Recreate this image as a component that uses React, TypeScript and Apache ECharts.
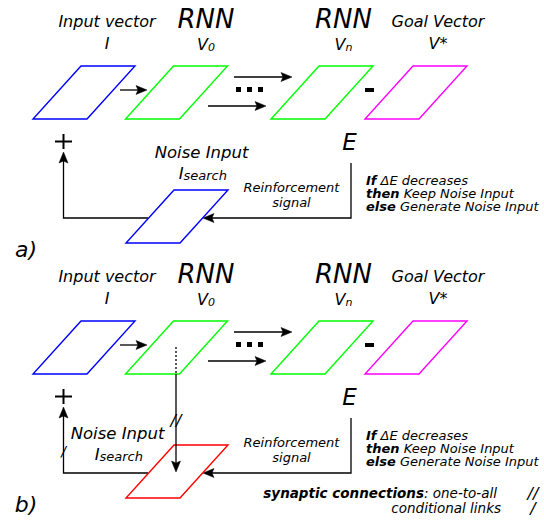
import React, { useEffect, useRef } from "react";
import * as echarts from "echarts";

const FONT = "DejaVu Sans";
const panelLabels = ["a)", "b)"];
const nodeTitles = ["Input vector", "RNN", "RNN", "Goal Vector"];
const nodeSymbols = ["I", "V", "V", "V*"];
const nodeSubscripts = ["", "0", "n", ""];
const nodeColors = ["#0000ff", "#00ff00", "#00ff00", "#ff00ff"];
const noiseColors = ["#0000ff", "#ff0000"];
const noiseTitle = "Noise Input";
const noiseSymbol = ["I", "search"];
const errorLabel = "E";
const signalLines = ["Reinforcement", "signal"];
const ruleLines: [string, string][] = [
  ["If", " ΔE decreases"],
  ["then", " Keep Noise Input"],
  ["else", " Generate Noise Input"],
];
const legendLines: [string, string][] = [
  ["synaptic connections", ": one-to-all"],
  ["", "conditional links"],
];
const legendMarks = ["//", "/"];

const NODE_X = [81, 173.5, 319, 413];
const TITLE_X = [107, 206, 343.5, 438];

function italic(size: number, weight = "normal", lh?: number) {
  return { fontFamily: FONT, fontStyle: "italic", fontWeight: weight, fontSize: size, lineHeight: lh || Math.round(size) };
}

function txt(text: string, x: number, y: number, size: number, align = "center", lh?: number) {
  return {
    type: "text",
    x,
    y,
    silent: true,
    style: {
      text,
      fill: "#000",
      ...italic(size, "normal", lh),
      align,
      verticalAlign: "middle",
      textAlign: align,
      textVerticalAlign: "middle",
    },
  };
}

function para(tx: number, ty: number, color: string) {
  return {
    type: "polygon",
    shape: { points: [[tx, ty], [tx + 54, ty], [tx + 6, ty + 53], [tx - 48, ty + 53]] },
    style: { fill: "none", stroke: color, lineWidth: 1.4 },
  };
}

function head(tx: number, ty: number, dir: string) {
  const len = 11, half = 4.5, notch = 2;
  const pts = [
    [0, 0],
    [-len, -half],
    [-len + notch, 0],
    [-len, half],
  ];
  const rot = (p: number[]) => {
    const [a, b] = p;
    if (dir === "right") return [tx + a, ty + b];
    if (dir === "left") return [tx - a, ty + b];
    if (dir === "up") return [tx + b, ty - a];
    return [tx + b, ty + a];
  };
  return {
    type: "polygon",
    shape: { points: pts.map(rot) },
    style: { fill: "#000", stroke: "#000", lineWidth: 0.5 },
  };
}

function seg(points: number[][], dash?: number[]) {
  return {
    type: "polyline",
    shape: { points },
    style: { fill: null, stroke: "#000", lineWidth: 1.3, lineDash: dash || null },
  };
}

function richText(x: number, y: number, text: string, size: number, align: string, lh: number) {
  return {
    type: "text",
    x,
    y,
    silent: true,
    style: {
      text,
      rich: { b: italic(size, "bold", lh), n: italic(size, "normal", lh) },
      fill: "#000",
      align,
      verticalAlign: "middle",
      textAlign: align,
      textVerticalAlign: "middle",
    },
  };
}

function panel(p: number) {
  const dy = p * 255;
  const els: any[] = [];
  // nodes
  for (let i = 0; i < 4; i++) {
    els.push(para(NODE_X[i], 66 + dy, nodeColors[i]));
    const big = nodeTitles[i] === "RNN";
    els.push(txt(nodeTitles[i], TITLE_X[i], (big ? 19 : 21) + dy, big ? 26 : 16));
    if (nodeSubscripts[i]) {
      els.push(txt(nodeSymbols[i], TITLE_X[i] + 2, 44 + dy, 16, "right"));
      els.push(txt(nodeSubscripts[i], TITLE_X[i] + 2, 47 + dy, 11, "left"));
    } else {
      els.push(txt(nodeSymbols[i], TITLE_X[i], 43 + dy, 16));
    }
  }
  // forward arrows
  els.push(seg([[120, 90 + dy], [140, 90 + dy]]), head(147, 90 + dy, "right"));
  els.push(seg([[234, 77 + dy], [285, 77 + dy]]), head(292, 77 + dy, "right"));
  els.push(seg([[208, 106 + dy], [259, 106 + dy]]), head(266, 106 + dy, "right"));
  // dots
  [236, 247, 258].forEach((x) =>
    els.push({ type: "rect", shape: { x, y: 87 + dy, width: 5, height: 5 }, style: { fill: "#000" } })
  );
  // minus
  els.push({ type: "rect", shape: { x: 365, y: 88 + dy, width: 9, height: 4 }, style: { fill: "#000" } });
  // plus
  els.push({ type: "line", shape: { x1: 55, y1: 141.5 + dy, x2: 72, y2: 141.5 + dy }, style: { stroke: "#000", lineWidth: 2 } });
  els.push({ type: "line", shape: { x1: 63.5, y1: 134 + dy, x2: 63.5, y2: 149 + dy }, style: { stroke: "#000", lineWidth: 2 } });
  // E
  els.push(txt(errorLabel, 349.5, 142 + dy, 23));
  // feedback lines
  els.push(seg([[351, 163 + dy], [351, 218 + dy], [210, 218 + dy]]), head(203, 218 + dy, "left"));
  els.push(seg([[148, 218 + dy], [63.5, 218 + dy], [63.5, 159 + dy]]), head(63.5, 152 + dy, "up"));
  // noise parallelogram
  els.push(para(174, 190 + dy, noiseColors[p]));
  const nx = p === 0 ? 201.5 : 117.5;
  const ny = p === 0 ? 152 : 178;
  els.push(txt(noiseTitle, nx, ny + dy, 16.5));
  els.push(txt(noiseSymbol[0], nx - 18, ny + 21 + dy, 16.5, "right"));
  els.push(txt(noiseSymbol[1], nx - 18, ny + 23 + dy, 13, "left"));
  // reinforcement signal
  els.push(txt(signalLines[0], 291.5, 187 + dy, 13, "center", 13));
  els.push(txt(signalLines[1], 291.5, 202 + dy, 13, "center", 13));
  // rules
  ruleLines.forEach((r, i) => {
    els.push(richText(366, 180 + i * 13 + dy, `{b|${r[0]}}{n|${r[1]}}`, 13, "left", 12));
  });
  // panel label
  els.push(txt(panelLabels[p], 26, 249 + dy, 22));
  return els;
}

function extraB() {
  const dy = 255;
  const els: any[] = [];
  els.push(seg([[176, 347], [176, 374]], [2, 2]));
  els.push(seg([[176, 374], [176, 465]]), head(176, 472, "down"));
  els.push(txt(legendMarks[0], 176, 420, 16));
  els.push(txt(legendMarks[1], 63.5, 451, 14));
  legendLines.forEach((l, i) => {
    const t = l[0] ? `{b|${l[0]}}{n|${l[1]}}` : `{n|${l[1]}}`;
    els.push(richText(i === 0 ? 497 : 501, 238 + i * 15 + dy, t, 13.5, "right", 14));
    els.push(txt(legendMarks[i], 533, 238 + i * 15 + dy, 16, "center", 14));
  });
  return els;
}

export default function App() {
  const ref = useRef<HTMLDivElement>(null);
  useEffect(() => {
    if (!ref.current) return;
    const chart = echarts.init(ref.current, null, { renderer: "svg" });
    chart.setOption({
      animation: false,
      backgroundColor: "#fff",
      graphic: { elements: [...panel(0), ...panel(1), ...extraB()] },
    });
    return () => chart.dispose();
  }, []);
  return (
    <div
      ref={ref}
      style={{ position: "fixed", left: 0, top: 0, width: 544, height: 520, background: "#fff" }}
    />
  );
}
